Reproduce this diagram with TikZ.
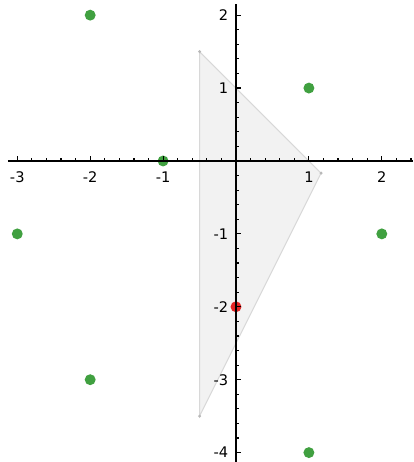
\documentclass[tikz,border=0pt]{standalone}
\usepackage{fontspec}
\setmainfont{DejaVu Sans}
\definecolor{ptgreen}{RGB}{64,160,64}
\definecolor{ptred}{RGB}{226,36,36}
\definecolor{polyfill}{RGB}{242,242,242}
\definecolor{polyedge}{RGB}{216,216,216}
\tikzset{
  gpt/.style={circle,fill=ptgreen,inner sep=0pt,minimum size=0.15cm},
  rpt/.style={circle,fill=ptred,inner sep=0pt,minimum size=0.15cm},
  vtx/.style={circle,fill=polyedge!85!black,inner sep=0pt,minimum size=0.045cm},
  axis/.style={black,line width=0.45pt},
  xlab/.style={inner sep=0pt,font=\fontsize{5.7}{7}\selectfont},
  ylab/.style={anchor=east,inner sep=0pt,font=\fontsize{5.7}{7}\selectfont}
}

\begin{document}
\begin{tikzpicture}
\useasboundingbox (-3.237,-4.129) rectangle (2.428,2.208);
% triangle
\coordinate(v1) at (-0.5,1.5);
\coordinate(v2) at (7/6,-1/6);
\coordinate(v3) at (-0.5,-3.5);
\draw[fill=polyfill,draw=polyedge,line width=0.4pt] (v1) -- (v2) -- (v3) -- cycle;
\node[vtx](w1) at (v1){};
\node[vtx](w2) at (v2){};
\node[vtx](w3) at (v3){};
% points
\node[gpt](p1) at (-2,2){};
\node[gpt](p2) at (1,1){};
\node[gpt](p3) at (-1,0){};
\node[gpt](p4) at (-3,-1){};
\node[gpt](p5) at (2,-1){};
\node[gpt](p6) at (-2,-3){};
\node[gpt](p7) at (1,-4){};
\node[rpt](q) at (0,-2){};
% axes
\coordinate(xl) at (-3.13,0);
\coordinate(xr) at (2.428,0);
\coordinate(yb) at (0,-4.129);
\coordinate(yt) at (0,2.15);
\draw[axis] (xl) -- (xr);
\draw[axis] (yb) -- (yt);
\foreach \i in {-15,...,12} \draw[axis] (\i/5,0) -- ++(0,0.035);
\foreach \i in {-20,...,10} \draw[axis] (0,\i/5) -- ++(0.035,0);
\foreach \x in {-3,-2,-1,1,2} \draw[axis] (\x,0) -- ++(0,0.07);
\foreach \y in {-4,-3,-2,-1,1,2} \draw[axis] (0,\y) -- ++(0.07,0);
% tick labels
\node[xlab](xm3) at (-3,-0.22){-3};
\node[xlab](xm2) at (-2,-0.22){-2};
\node[xlab](xm1) at (-1,-0.22){-1};
\node[xlab](x1) at (1,-0.22){1};
\node[xlab](x2) at (2,-0.22){2};
\node[ylab](y2) at (-0.1,2){2};
\node[ylab](y1) at (-0.1,1){1};
\node[ylab](ym1) at (-0.1,-1){-1};
\node[ylab](ym2) at (-0.1,-2){-2};
\node[ylab](ym3) at (-0.1,-3){-3};
\node[ylab](ym4) at (-0.1,-4){-4};
\end{tikzpicture}
\end{document}
